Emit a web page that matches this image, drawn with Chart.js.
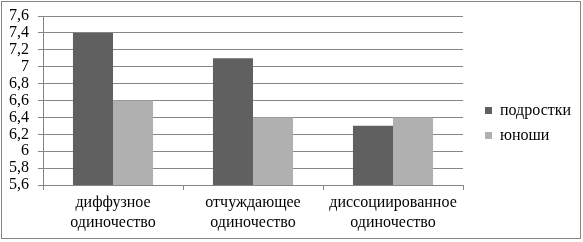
<!DOCTYPE html>
<html><head><meta charset="utf-8">
<script src="https://cdn.jsdelivr.net/npm/chart.js@4/dist/chart.umd.min.js"></script>
<style>
html,body{margin:0;padding:0;background:#fff;}
#wrap{position:relative;width:583px;height:242px;}
#frame{position:absolute;left:1px;top:1px;width:578px;height:236px;border:1px solid #868686;pointer-events:none;}
canvas{position:absolute;left:0;top:0;}
</style></head>
<body><div id="wrap"><canvas id="c" width="583" height="242"></canvas><div id="frame"></div></div>
<script>
const categories = [['диффузное','одиночество'],['отчуждающее','одиночество'],['диссоциированное','одиночество']];
const seriesNames = ['подростки','юноши'];
const teens = [7.4, 7.1, 6.3];
const youths = [6.6, 6.4, 6.4];
const yMin = 5.6, yMax = 7.6, yStep = 0.2;

const FAM = "'Liberation Serif','Times New Roman',serif";
Chart.defaults.font.family = FAM;
const font = {family:FAM, size:16};

const legendFix = {
  id:'legendFix',
  beforeLayout(chart){
    const lg = chart.legend;
    if(lg && !lg._patched){
      const f = lg.fit.bind(lg);
      lg.fit = function(){ f(); this.width = 583 - 463; };
      const d = lg.draw.bind(lg);
      lg.draw = function(){ const ctx = this.ctx; ctx.save(); ctx.translate(13,-6); d(); ctx.restore(); };
      lg._patched = true;
    }
  }
};

new Chart(document.getElementById('c'), {
  type:'bar',
  data:{labels:categories, datasets:[
    {label:seriesNames[0], data:teens, backgroundColor:'#606060', borderWidth:0},
    {label:seriesNames[1], data:youths, backgroundColor:'#b0b0b0', borderWidth:0}
  ]},
  plugins:[legendFix],
  options:{
    responsive:false, animation:false,
    layout:{padding:{left:0,top:16,right:0,bottom:0}},
    datasets:{bar:{categoryPercentage:0.572, barPercentage:1}},
    plugins:{
      legend:{position:'right', align:'center', labels:{font:font, color:'#000', boxWidth:7, boxHeight:7, padding:9}},
      tooltip:{enabled:false}
    },
    scales:{
      x:{
        grid:{drawOnChartArea:false, drawTicks:true, tickLength:5, color:'#868686'},
        border:{color:'#868686'},
        ticks:{font:{...font, lineHeight:1.25}, color:'#000', padding:3, maxRotation:0, autoSkip:false},
        afterFit:(s)=>{s.height = 242-185; s.paddingLeft = 0; s.paddingRight = 0;}
      },
      y:{
        min:yMin, max:yMax,
        grid:{drawTicks:true, tickLength:5, color:'#868686'},
        border:{color:'#868686'},
        ticks:{stepSize:yStep, autoSkip:false, font:font, color:'#000', padding:9,
          callback:(v)=>String(Math.round(v*10)/10).replace('.',',')},
        afterFit:(s)=>{s.width = 43; s.paddingTop = 0; s.paddingBottom = 0;}
      }
    }
  }
});
</script></body></html>
